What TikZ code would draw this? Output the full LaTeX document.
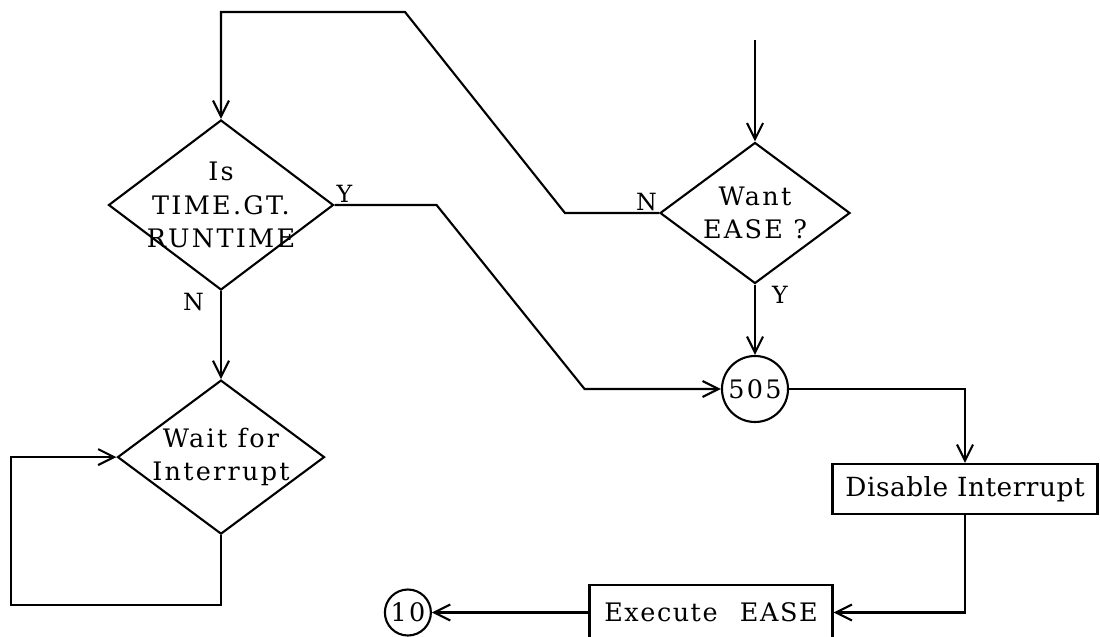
\documentclass[tikz,border=0pt]{standalone}
\usepackage{fontspec}
\setmainfont{DejaVu Serif}[LetterSpace=9]
\usetikzlibrary{arrows.meta,positioning,shapes.geometric}
\tikzset{
  decision/.style={diamond, draw, line width=1.2pt, inner sep=0pt},
  qtext/.style={inner sep=0pt, align=center, font=\fontsize{14.5}{19}\selectfont},
  procbox/.style={draw, line width=1.2pt, minimum height=1cm, inner sep=2pt,
    font=\fontsize{14.5}{19}\selectfont},
  onpage/.style={circle, draw, line width=1.2pt, inner sep=0pt,
    font=\fontsize{14.5}{15}\selectfont},
  answer/.style={inner sep=1pt, font=\fontsize{13.5}{15}\selectfont},
  arrow/.style={-{Straight Barb[length=3.2mm,width=3.2mm]}, line width=1.2pt}
}

\begin{document}
\begin{tikzpicture}
  \useasboundingbox (0,0) rectangle (22,12.72);
  \node[decision, minimum width=4.5cm, minimum height=3.4cm,
    label={[qtext]center:Is\\TIME.GT.\\RUNTIME}] (d1) at (4.42,8.62) {};
  \node[decision, minimum width=4.14cm, minimum height=3.08cm,
    label={[qtext]center:Wait for\\Interrupt}, below=1.76cm of d1] (d3) {};
  \node[decision, minimum width=3.8cm, minimum height=2.82cm,
    label={[qtext]center:Want\\EASE ?}] (d2) at (15.1,8.46) {};
  \node[onpage, minimum size=1.32cm] (c505) at (15.1,4.94) {505};
  \node[procbox, minimum width=5.3cm,
    font=\fontsize{15}{19}\selectfont\addfontfeatures{LetterSpace=2}] (dis) at (19.3,2.94) {Disable Interrupt};
  \node[procbox, minimum width=4.86cm, minimum height=1.1cm,
    font=\fontsize{14.5}{19}\selectfont\addfontfeatures{LetterSpace=6}] (exe) at (14.22,0.47) {Execute\hspace{0.5em} EASE};
  \node[onpage, minimum size=0.92cm, left=3.13cm of exe] (c10) {10};
  \coordinate (entry) at (15.1,11.92);

  \node[answer, anchor=south west] (y1) at (d1.east) {Y};
  \node[answer, below left=0pt and 0.3cm of d1.south] (n1) {N};
  \node[answer, anchor=south east] (n2) at (d2.west) {N};
  \node[answer, below right=0pt and 0.3cm of d2.south] (y2) {Y};

  \draw[arrow] (entry) -- (d2.north);
  \draw[arrow] (d2.west) -- ++(-1.88,0) -- (8.1,12.48) -| (d1.north);
  \draw[arrow] (d1.east) -- ++(2.04,0) -- ++(2.96,-3.68) -- (c505);
  \draw[arrow] (d1.south) -- (d3.north);
  \draw[arrow] (d3.south) -- ++(0,-1.4) -| ([xshift=-2.1cm]d3.west) -- (d3.west);
  \draw[arrow] (d2.south) -- (c505.north);
  \draw[arrow] (c505) -| (dis.north);
  \draw[arrow] (dis.south) |- (exe.east);
  \draw[arrow] (exe) -- (c10);
\end{tikzpicture}
\end{document}
